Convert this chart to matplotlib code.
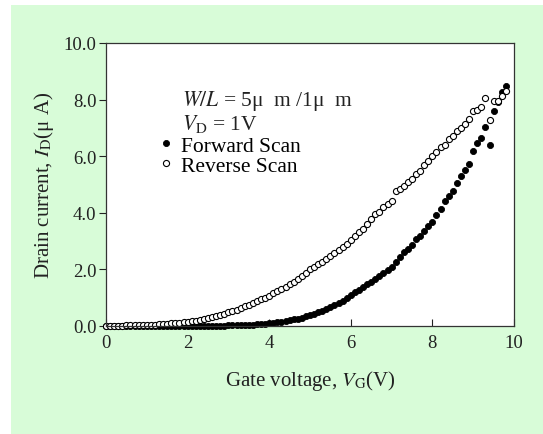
import numpy as np
import matplotlib.pyplot as plt
from matplotlib.patches import Rectangle

plt.rcParams['font.family'] = ['Liberation Serif', 'DejaVu Serif']
plt.rcParams['mathtext.fontset'] = 'stix'

# gate voltage steps (V)
vg = np.round(np.arange(0, 9.81, 0.1), 1)

# forward scan, drain current (uA)
forward = [0.00, 0.00, 0.00, 0.00, 0.00, 0.00, 0.00, 0.00, 0.00, 0.00,
           0.00, 0.00, 0.00, 0.00, 0.00, 0.00, 0.00, 0.00, 0.00, 0.00,
           0.00, 0.00, 0.00, 0.00, 0.00, 0.01, 0.01, 0.01, 0.01, 0.01,
           0.02, 0.02, 0.02, 0.03, 0.03, 0.04, 0.05, 0.06, 0.07, 0.08,
           0.09, 0.11, 0.13, 0.15, 0.17, 0.20, 0.23, 0.26, 0.30, 0.34,
           0.38, 0.43, 0.48, 0.54, 0.60, 0.67, 0.74, 0.82, 0.90, 0.99,
           1.10, 1.19, 1.28, 1.37, 1.47, 1.57, 1.67, 1.77, 1.87, 1.98,
           2.10, 2.25, 2.43, 2.63, 2.72, 2.86, 3.07, 3.19, 3.35, 3.52,
           3.69, 3.93, 4.13, 4.40, 4.60, 4.78, 5.04, 5.31, 5.52, 5.71,
           6.20, 6.47, 6.63, 7.02, 6.40, 7.61, 7.90, 8.26, 8.49]

# reverse scan, drain current (uA)
reverse = [0.00, 0.00, 0.01, 0.01, 0.01, 0.02, 0.02, 0.02, 0.03, 0.03,
           0.04, 0.04, 0.05, 0.06, 0.07, 0.08, 0.09, 0.10, 0.11, 0.13,
           0.15, 0.17, 0.19, 0.22, 0.25, 0.28, 0.31, 0.35, 0.39, 0.43,
           0.48, 0.53, 0.58, 0.63, 0.69, 0.75, 0.81, 0.87, 0.94, 1.00,
           1.07, 1.15, 1.23, 1.31, 1.39, 1.48, 1.57, 1.67, 1.77, 1.87,
           2.00, 2.09, 2.18, 2.27, 2.37, 2.47, 2.57, 2.68, 2.80, 2.91,
           3.04, 3.19, 3.31, 3.43, 3.60, 3.78, 3.96, 4.04, 4.19, 4.31,
           4.43, 4.78, 4.83, 4.96, 5.08, 5.19, 5.37, 5.49, 5.69, 5.84,
           6.02, 6.16, 6.31, 6.40, 6.61, 6.70, 6.90, 6.99, 7.14, 7.31,
           7.61, 7.63, 7.73, 8.05, 7.28, 7.95, 7.95, 8.11, 8.32]

xticks = [0, 2, 4, 6, 8, 10]
yticks = [0, 2, 4, 6, 8, 10]

fig = plt.figure(figsize=(5.43, 4.35), dpi=100, facecolor='white')
# light green panel behind the plot
bg = Rectangle((11/543, 0), 1, 429/435, transform=fig.transFigure,
               facecolor='#d8fcd8', edgecolor='none', zorder=-10)
fig.add_artist(bg)

ax = fig.add_axes([106/543, (435-327)/435, 408/543, 283/435])
ax.set_zorder(5)
ax.set_facecolor('white')

ax.plot(vg, forward, 'o', ms=4.4, mfc='black', mec='black', mew=0.6,
        label='Forward Scan', clip_on=False)
ax.plot(vg, reverse, 'o', ms=4.4, mfc='white', mec='black', mew=0.8,
        label='Reverse Scan', clip_on=False)

ax.set_xlim(0, 10)
ax.set_ylim(0, 10)
ax.set_xticks(xticks)
ax.set_xticklabels([str(t) for t in xticks])
ax.set_yticks(yticks)
ax.set_yticklabels(['%.1f' % t for t in yticks])
ax.tick_params(axis='x', direction='in', length=5, width=0.8, labelsize=13.5, pad=6, colors='#222222')
ax.tick_params(axis='y', direction='out', length=5, width=0.8, labelsize=13.5, pad=2, colors='#222222')
for s in ax.spines.values():
    s.set_color('#333333')
    s.set_linewidth(0.9)

ax.set_xlabel(r'Gate voltage, $V_{\rm G}$(V)', fontsize=15, labelpad=12, color='#222222')
ax.set_ylabel(r'Drain current, $I_{\rm D}$(μ A)', fontsize=15, labelpad=5, color='#222222')

ax.text(0.186, 0.798, r'$W/L$ = 5μ  m /1μ  m', transform=ax.transAxes,
        fontsize=15.5, va='center', ha='left', color='#222222')
ax.text(0.186, 0.718, r'$V_{\rm D}$ = 1V', transform=ax.transAxes,
        fontsize=15.5, va='center', ha='left', color='#222222')

leg = ax.legend(loc='upper left', bbox_to_anchor=(0.127, 0.672), frameon=False,
                fontsize=15.5, handletextpad=0.3, handlelength=0.8,
                borderaxespad=0, labelspacing=0.0, borderpad=0)

fig.savefig('out.png', dpi=100, facecolor=fig.get_facecolor())
